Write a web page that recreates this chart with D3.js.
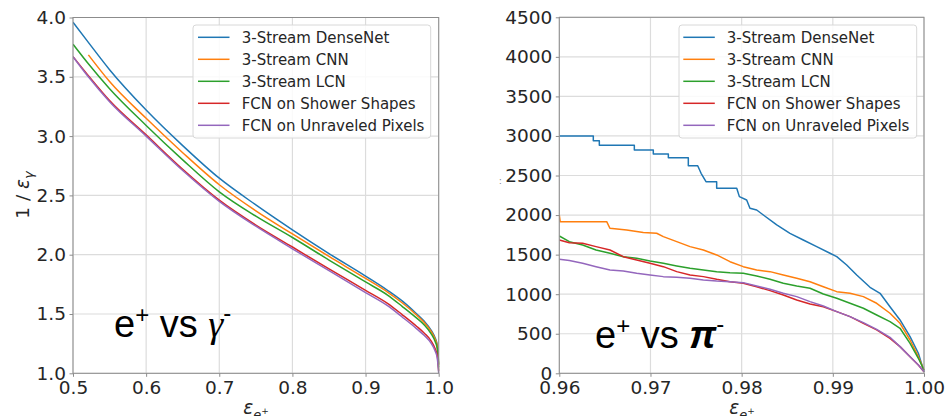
<!DOCTYPE html>
<html>
<head>
<meta charset="utf-8">
<script src="https://cdn.jsdelivr.net/npm/d3@7"></script>
<style>
  html, body { margin: 0; padding: 0; background: #fff; }
  svg { display: block; }
</style>
</head>
<body>
<svg id="chart" width="947" height="416"></svg>
<script>
// ---- Series names and colours ----
const seriesNames = ["3-Stream DenseNet", "3-Stream CNN", "3-Stream LCN", "FCN on Shower Shapes", "FCN on Unraveled Pixels"];
const seriesColors = ["#1f77b4", "#ff7f0e", "#2ca02c", "#d62728", "#9467bd"];

// ---- Left panel: e+ vs gamma, 1/eps_gamma against eps_e+ ----
const gammaEff = [0.5, 0.521, 0.55, 0.6, 0.65, 0.7, 0.75, 0.8, 0.85, 0.9, 0.93, 0.95, 0.97, 0.98, 0.99, 0.995, 0.998, 1.0];
const gammaDenseNet = [3.96, 3.79, 3.56, 3.22, 2.92, 2.645, 2.42, 2.21, 2.01, 1.82, 1.70, 1.61, 1.50, 1.44, 1.36, 1.30, 1.24, 1.08];
const gammaCNN      = [null, 3.685, 3.46, 3.15, 2.86, 2.59, 2.37, 2.175, 1.985, 1.80, 1.685, 1.595, 1.49, 1.43, 1.35, 1.29, 1.23, 1.07];
const gammaLCN      = [3.775, 3.61, 3.40, 3.09, 2.80, 2.53, 2.325, 2.145, 1.955, 1.77, 1.66, 1.565, 1.465, 1.41, 1.33, 1.27, 1.21, 1.05];
const gammaShower   = [3.67, 3.51, 3.30, 3.01, 2.72, 2.46, 2.25, 2.065, 1.88, 1.70, 1.59, 1.495, 1.395, 1.34, 1.27, 1.21, 1.15, 1.02];
const gammaPixels   = [3.67, 3.50, 3.29, 3.00, 2.71, 2.45, 2.24, 2.05, 1.865, 1.68, 1.57, 1.475, 1.375, 1.32, 1.25, 1.19, 1.13, 1.0];
const gammaXTicks = [0.5, 0.6, 0.7, 0.8, 0.9, 1.0];
const gammaYTicks = [1.0, 1.5, 2.0, 2.5, 3.0, 3.5, 4.0];

// ---- Right panel: e+ vs pi-, pion rejection against eps_e+ ----
const piDenseNetX = [0.96, 0.96373, 0.96373, 0.96439, 0.96439, 0.96823, 0.96823, 0.97031, 0.97031, 0.97196, 0.97196, 0.97415, 0.97415, 0.97518, 0.97555, 0.97609, 0.97726, 0.97726, 0.97946, 0.97975, 0.98055, 0.98091, 0.98165, 0.98238, 0.98385, 0.9853, 0.98676, 0.98823, 0.98969, 0.99043, 0.99152, 0.99262, 0.99408, 0.99518, 0.99627, 0.99737, 0.99847, 0.99938, 1.0];
const piDenseNetY = [3000, 3000, 2940, 2940, 2882, 2882, 2823, 2823, 2772, 2772, 2726, 2726, 2624, 2624, 2528, 2422, 2422, 2339, 2339, 2233, 2191, 2086, 2064, 2001, 1875, 1769, 1685, 1601, 1517, 1474, 1369, 1243, 1087, 1011, 842, 674, 463, 253, 20];
const piCNNX = [0.96, 0.9601, 0.9652, 0.96555, 0.96739, 0.96921, 0.97068, 0.97141, 0.97288, 0.97434, 0.9758, 0.97726, 0.97872, 0.98018, 0.98165, 0.98311, 0.98457, 0.98604, 0.9875, 0.98896, 0.99043, 0.99189, 0.99335, 0.99481, 0.99627, 0.99737, 0.99847, 0.99938, 1.0];
const piCNNY = [2001, 1917, 1917, 1833, 1812, 1780, 1770, 1728, 1664, 1601, 1559, 1496, 1411, 1348, 1306, 1285, 1243, 1201, 1158, 1095, 1032, 1011, 969, 885, 759, 632, 421, 210, 42];
const piEffGrid = [0.96, 0.9611, 0.96256, 0.96403, 0.96556, 0.96702, 0.96849, 0.96995, 0.97141, 0.97288, 0.97434, 0.9758, 0.97726, 0.97872, 0.98018, 0.98165, 0.98311, 0.98457, 0.98604, 0.9875, 0.98896, 0.99043, 0.99189, 0.99335, 0.99481, 0.99627, 0.99737, 0.99847, 0.99938, 1.0];
const piLCN    = [1736, 1664, 1622, 1559, 1517, 1474, 1454, 1420, 1391, 1357, 1327, 1306, 1285, 1272, 1264, 1230, 1188, 1138, 1104, 1075, 1003, 948, 885, 822, 737, 653, 569, 379, 190, 42];
const piShower = [1685, 1651, 1643, 1601, 1559, 1474, 1432, 1391, 1348, 1285, 1243, 1222, 1188, 1158, 1138, 1095, 1045, 990, 927, 876, 842, 779, 716, 632, 548, 442, 337, 210, 105, 20];
const piPixels = [1441, 1425, 1391, 1348, 1306, 1293, 1264, 1243, 1222, 1214, 1201, 1180, 1167, 1158, 1146, 1104, 1062, 1011, 969, 906, 851, 779, 716, 640, 556, 455, 337, 210, 105, 20];
const piXTicks = [0.96, 0.97, 0.98, 0.99, 1.00];
const piYTicks = [0, 500, 1000, 1500, 2000, 2500, 3000, 3500, 4000, 4500];

const svg = d3.select("#chart");
const FONT = "'DejaVu Sans', sans-serif";

function drawPanel(cfg) {
  const g = svg.append("g");
  const x = d3.scaleLinear().domain(cfg.xDomain).range([cfg.left, cfg.right]);
  const y = d3.scaleLinear().domain(cfg.yDomain).range([cfg.bottom, cfg.top]);

  // grid
  g.append("g").selectAll("line").data(cfg.xTicks).join("line")
    .attr("x1", d => x(d)).attr("x2", d => x(d))
    .attr("y1", cfg.top).attr("y2", cfg.bottom)
    .attr("stroke", "#dcdcdc").attr("stroke-width", 1.2);
  g.append("g").selectAll("line").data(cfg.yTicks).join("line")
    .attr("x1", cfg.left).attr("x2", cfg.right)
    .attr("y1", d => y(d)).attr("y2", d => y(d))
    .attr("stroke", "#dcdcdc").attr("stroke-width", 1.2);

  // series
  const clip = "clip-" + cfg.id;
  svg.append("clipPath").attr("id", clip).append("rect")
    .attr("x", cfg.left).attr("y", cfg.top - 2)
    .attr("width", cfg.right - cfg.left + 1).attr("height", cfg.bottom - cfg.top + 3);
  const lines = g.append("g").attr("clip-path", `url(#${clip})`);
  cfg.series.forEach((s, i) => {
    const pts = s.xs.map((xv, k) => [xv, s.ys[k]]);
    const line = d3.line()
      .defined(d => d[1] != null)
      .x(d => x(d[0])).y(d => y(d[1]))
      .curve(cfg.curve);
    lines.append("path").datum(pts)
      .attr("d", line)
      .attr("fill", "none")
      .attr("stroke", seriesColors[i])
      .attr("stroke-width", 1.5)
      .attr("stroke-linejoin", "round");
  });

  // spines
  g.append("rect")
    .attr("x", cfg.left).attr("y", cfg.top)
    .attr("width", cfg.right - cfg.left).attr("height", cfg.bottom - cfg.top)
    .attr("fill", "none").attr("stroke", "#8c8c8c").attr("stroke-width", 1);

  // axes
  const ax = g.append("g").attr("transform", `translate(0,${cfg.bottom})`)
    .call(d3.axisBottom(x).tickValues(cfg.xTicks).tickFormat(d3.format(cfg.xFmt)).tickSize(3.5).tickPadding(4));
  const ay = g.append("g").attr("transform", `translate(${cfg.left},0)`)
    .call(d3.axisLeft(y).tickValues(cfg.yTicks).tickFormat(d3.format(cfg.yFmt)).tickSize(3.5).tickPadding(3.5));
  [ax, ay].forEach(a => {
    a.select(".domain").remove();
    a.selectAll(".tick line").attr("stroke", "#8c8c8c");
    a.selectAll(".tick text").attr("font-size", 18.5).attr("font-family", FONT).attr("fill", "#262626");
  });

  // legend
  const lg = g.append("g");
  lg.append("rect")
    .attr("x", cfg.legend.x).attr("y", 25)
    .attr("width", cfg.legend.w).attr("height", 113)
    .attr("rx", 3).attr("fill", "#fff").attr("fill-opacity", 0.85)
    .attr("stroke", "#d8d8d8").attr("stroke-width", 1);
  seriesNames.forEach((name, i) => {
    const ry = 37.3 + i * 22;
    lg.append("line")
      .attr("x1", cfg.legend.lx).attr("x2", cfg.legend.lx + 31.5)
      .attr("y1", ry).attr("y2", ry)
      .attr("stroke", seriesColors[i]).attr("stroke-width", 1.5);
    lg.append("text")
      .attr("x", cfg.legend.tx).attr("y", ry).attr("dy", "0.36em")
      .attr("font-family", FONT).attr("font-size", 15).attr("fill", "#262626")
      .text(name);
  });
  return { x, y, g };
}

drawPanel({
  id: "gamma",
  left: 73, right: 438.7, top: 17.5, bottom: 373.3,
  xDomain: [0.5, 1.0], yDomain: [1.0, 4.0],
  xTicks: gammaXTicks, yTicks: gammaYTicks, xFmt: ".1f", yFmt: ".1f",
  curve: d3.curveMonotoneX,
  series: [gammaDenseNet, gammaCNN, gammaLCN, gammaShower, gammaPixels].map(ys => ({ xs: gammaEff, ys })),
  legend: { x: 193, w: 237.7, lx: 198, tx: 241.7 }
});

drawPanel({
  id: "pi",
  left: 559.3, right: 924, top: 17.3, bottom: 373.3,
  xDomain: [0.96, 1.0], yDomain: [0, 4500],
  xTicks: piXTicks, yTicks: piYTicks, xFmt: ".2f", yFmt: "d",
  curve: d3.curveLinear,
  series: [
    { xs: piDenseNetX, ys: piDenseNetY },
    { xs: piCNNX, ys: piCNNY },
    { xs: piEffGrid, ys: piLCN },
    { xs: piEffGrid, ys: piShower },
    { xs: piEffGrid, ys: piPixels }
  ],
  legend: { x: 679, w: 237.7, lx: 683.3, tx: 726.7 }
});

// axis titles
const yTitle = svg.append("text")
  .attr("transform", "translate(29,195) rotate(-90)")
  .attr("text-anchor", "middle")
  .attr("font-family", FONT).attr("font-size", 18.5).attr("fill", "#262626");
yTitle.append("tspan").text("1 / ");
yTitle.append("tspan").attr("font-style", "italic").text("ε");
yTitle.append("tspan").attr("font-style", "italic").attr("font-size", 13).attr("dy", 4).text("γ");

function xTitle(cx) {
  const t = svg.append("text")
    .attr("x", cx).attr("y", 414).attr("text-anchor", "middle")
    .attr("font-family", FONT).attr("font-size", 18.5).attr("fill", "#262626");
  t.append("tspan").attr("font-style", "italic").text("ε");
  t.append("tspan").attr("font-style", "italic").attr("font-size", 13).attr("dy", 5).text("e");
  t.append("tspan").attr("font-size", 9).attr("dy", -5).text("+");
}
xTitle(256);
xTitle(742);

// small mark left of the right panel's tick labels
svg.append("text").attr("x", 499).attr("y", 184)
  .attr("font-family", FONT).attr("font-size", 8).attr("fill", "#777").text(":");

// panel annotations
const ANN = "'Liberation Sans', Arial, sans-serif";
const a1 = svg.append("text").attr("x", 114).attr("y", 337)
  .attr("font-family", ANN).attr("font-size", 38).attr("fill", "#000");
a1.append("tspan").text("e");
a1.append("tspan").attr("font-size", 24).attr("dy", -14).text("+");
a1.append("tspan").attr("dy", 14).text(" vs ");
a1.append("tspan").attr("font-style", "italic").attr("font-family", "'Liberation Serif', serif").text("γ");
a1.append("tspan").attr("font-size", 24).attr("dy", -16).text("-");

const a2 = svg.append("text").attr("x", 595).attr("y", 348)
  .attr("font-family", ANN).attr("font-size", 38).attr("fill", "#000");
a2.append("tspan").text("e");
a2.append("tspan").attr("font-size", 24).attr("dy", -14).text("+");
a2.append("tspan").attr("dy", 14).text(" vs ");
a2.append("tspan").attr("font-style", "italic").attr("font-weight", "bold").text("π");
a2.append("tspan").attr("font-size", 24).attr("dy", -16).text("-");
</script>
</body>
</html>
